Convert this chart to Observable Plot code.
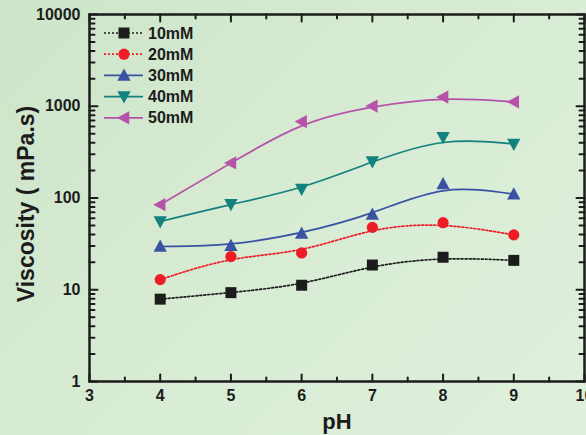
<!DOCTYPE html>
<html><head><meta charset="utf-8">
<script src="https://cdn.jsdelivr.net/npm/d3@7"></script>
<script src="https://cdn.jsdelivr.net/npm/@observablehq/plot@0.6"></script>
<style>
html,body{margin:0;padding:0;}
body{width:586px;height:435px;overflow:hidden;background:linear-gradient(135deg,#cde5c9 0%,#d7ebd3 45%,#dff0dc 100%);}
#chart svg{display:block;}
</style></head><body><div id="chart"></div>
<script>
const pH = [4, 5, 6, 7, 8, 9];
const seriesNames = ["10mM", "20mM", "30mM", "40mM", "50mM"];
const v10 = [7.9, 9.3, 11.2, 18.6, 22.6, 20.9];
const v20 = [12.9, 23, 25.2, 47.8, 53.8, 39.6];
const v30 = [29.6, 30.2, 41, 66, 142, 110];
const v40 = [55.5, 85.5, 125, 250, 458, 388];
const v50 = [84.5, 241, 680, 1005, 1260, 1115];
const seriesColors = ["#1c1c1c", "#ee1d25", "#3a52a3", "#13817e", "#b653a8"];
const seriesDash = ["2,2", "2,2", null, null, null];
const xTicks = [3, 4, 5, 6, 7, 8, 9, 10];
const xMinorTicks = [3.5, 4.5, 5.5, 6.5, 7.5, 8.5, 9.5];
const yTicks = [1, 10, 100, 1000, 10000];
const yMinorMult = [2, 3, 4, 5, 6, 7, 8, 9];

const allValues = [v10, v20, v30, v40, v50];
const rows = [];
seriesNames.forEach((s, i) => pH.forEach((p, j) => rows.push({series: s, pH: p, v: allValues[i][j]})));
const yMinorTicks = [];
yTicks.slice(0, -1).forEach(d => yMinorMult.forEach(m => yMinorTicks.push(d * m)));

// custom symbols
const triUp = {draw(ctx, size) { const r = Math.sqrt(size / Math.PI); ctx.moveTo(0, -r); ctx.lineTo(r * 0.95, r * 0.75); ctx.lineTo(-r * 0.95, r * 0.75); ctx.closePath(); }};
const triDown = {draw(ctx, size) { const r = Math.sqrt(size / Math.PI); ctx.moveTo(0, r); ctx.lineTo(r * 0.95, -r * 0.75); ctx.lineTo(-r * 0.95, -r * 0.75); ctx.closePath(); }};
const triLeft = {draw(ctx, size) { const r = Math.sqrt(size / Math.PI); ctx.moveTo(-r, 0); ctx.lineTo(r * 0.75, -r * 0.95); ctx.lineTo(r * 0.75, r * 0.95); ctx.closePath(); }};
const symbols = ["square", "circle", triUp, triDown, triLeft];
const radii = [6.2, 5.6, 7, 7, 7];

const tickShape = {draw(ctx, l) { ctx.moveTo(0, 0); ctx.lineTo(0, -l); }};
const ink = "#1c1c1c";
function ticks(data, opts, len) {
  return Plot.vector(data, {...opts, length: len, anchor: "start", shape: tickShape, stroke: ink, strokeWidth: 2});
}

const marks = [];
seriesNames.forEach((s, i) => {
  const data = rows.filter(d => d.series === s);
  marks.push(Plot.line(data, {x: "pH", y: "v", stroke: seriesColors[i], strokeWidth: 1.7, curve: "basis", strokeDasharray: seriesDash[i]}));
});
seriesNames.forEach((s, i) => {
  const data = rows.filter(d => d.series === s);
  marks.push(Plot.dot(data, {x: "pH", y: "v", symbol: () => symbols[i], fill: seriesColors[i], stroke: "none", r: radii[i]}));
});

const chart = Plot.plot({
  width: 586, height: 435,
  marginLeft: 89, marginRight: 2, marginTop: 14, marginBottom: 54,
  style: {background: "transparent", fontFamily: "'Liberation Sans', Arial, sans-serif", fontWeight: "bold", fontSize: "16px", color: ink},
  x: {domain: [3, 10]},
  y: {type: "log", domain: [1, 10000]},
  symbol: {type: "identity"},
  marks: [
    Plot.axisX(xTicks, {anchor: "bottom", tickSize: 0, tickPadding: 8, label: null, tickFormat: d => String(d), fontSize: 16, fontWeight: "bold", fill: ink}),
    Plot.axisY(yTicks, {anchor: "left", tickSize: 0, tickPadding: 9, label: null, tickFormat: d => String(d), fontSize: 16, fontWeight: "bold", fill: ink}),
    ticks(xTicks, {x: d => d, frameAnchor: "bottom", rotate: 0}, 7),
    ticks(xMinorTicks, {x: d => d, frameAnchor: "bottom", rotate: 0}, 4),
    ticks(xTicks, {x: d => d, frameAnchor: "top", rotate: 180}, 7),
    ticks(xMinorTicks, {x: d => d, frameAnchor: "top", rotate: 180}, 4),
    ticks(yTicks, {y: d => d, frameAnchor: "left", rotate: 90}, 8),
    ticks(yMinorTicks, {y: d => d, frameAnchor: "left", rotate: 90}, 5),
    ticks(yTicks, {y: d => d, frameAnchor: "right", rotate: -90}, 8),
    ticks(yMinorTicks, {y: d => d, frameAnchor: "right", rotate: -90}, 5),
    Plot.frame({stroke: ink, strokeWidth: 2.5}),
    ...marks,
    Plot.text(["pH"], {frameAnchor: "bottom", dy: 47, fontSize: 22, fontWeight: "bold", fill: ink}),
    Plot.text(["Viscosity ( mPa.s)"], {frameAnchor: "left", textAnchor: "middle", dx: -63, dy: 6, rotate: -90, fontSize: 23, fontWeight: "bold", fill: ink})
  ]
});
document.getElementById("chart").appendChild(chart);

// legend inside the plot
const svg = d3.select(chart);
const lg = svg.append("g").attr("transform", "translate(104,33)");
seriesNames.forEach((s, i) => {
  const g = lg.append("g").attr("transform", `translate(0,${i * 21.2})`);
  g.append("line").attr("x1", 0).attr("x2", 39).attr("y1", 0).attr("y2", 0)
    .attr("stroke", seriesColors[i]).attr("stroke-width", 1.7)
    .attr("stroke-dasharray", seriesDash[i]);
  const type = typeof symbols[i] === "string" ? (symbols[i] === "square" ? d3.symbolSquare : d3.symbolCircle) : symbols[i];
  g.append("path").attr("transform", "translate(20,0)")
    .attr("d", d3.symbol(type, radii[i] * radii[i] * Math.PI)())
    .attr("fill", seriesColors[i]);
  g.append("text").attr("x", 44).attr("y", 0).attr("dy", "0.35em").attr("text-anchor", "start")
    .attr("font-size", 16).attr("font-weight", "bold").attr("fill", ink).text(s);
});
</script>
</body></html>
